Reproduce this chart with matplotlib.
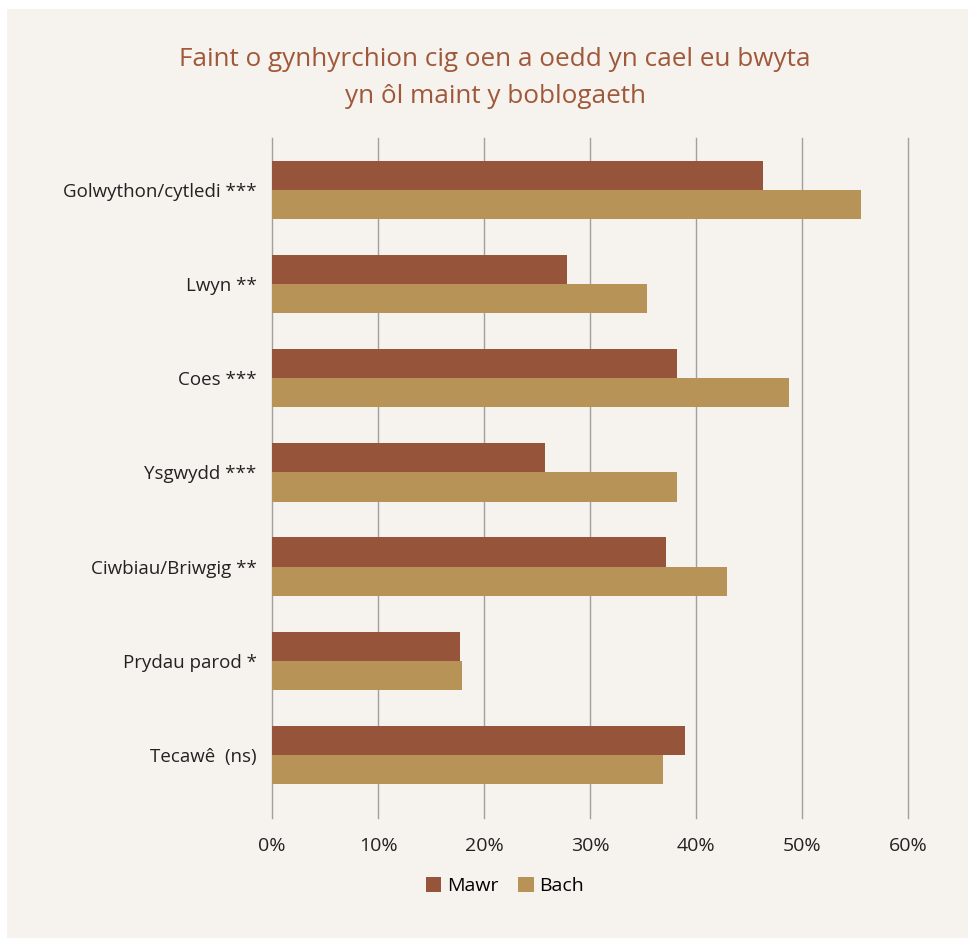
import numpy as np
import matplotlib.pyplot as plt
from matplotlib.patches import Rectangle

categories = ["Golwython/cytledi ***", "Lwyn **", "Coes ***", "Ysgwydd ***",
              "Ciwbiau/Briwgig **", "Prydau parod *", "Tecawê  (ns)"]
mawr = [46.3, 27.8, 38.2, 25.8, 37.2, 17.7, 39.0]
bach = [55.6, 35.4, 48.8, 38.2, 42.9, 17.9, 36.9]
xticks = [0, 10, 20, 30, 40, 50, 60]
xtick_labels = ["0%", "10%", "20%", "30%", "40%", "50%", "60%"]

plt.rcParams['font.family'] = ['Open Sans', 'DejaVu Sans']

bg = "#f6f3ee"
c_mawr = "#96553a"
c_bach = "#b89357"

fig = plt.figure(figsize=(9.72, 9.39), dpi=100, facecolor="white")
fig.patches.append(Rectangle((7 / 972, 1 - 938 / 939), 961 / 972, 929 / 939,
                             transform=fig.transFigure, facecolor=bg,
                             edgecolor="none", zorder=-10))

ax = fig.add_axes([272 / 972, 1 - 818 / 939, 636 / 972, 680 / 939])
ax.set_facecolor("none")

y = np.arange(len(categories))
h = 0.31
ax.barh(y - h / 2, mawr, height=h, color=c_mawr, label="Mawr", zorder=3)
ax.barh(y + h / 2, bach, height=h, color=c_bach, label="Bach", zorder=3)

ax.set_xlim(0, 60)
ax.set_ylim(len(categories) - 1 + 0.67, -0.55)
ax.set_xticks(xticks)
ax.set_xticklabels(xtick_labels, fontsize=14, color="#222222")
ax.set_yticks(y)
ax.set_yticklabels(categories, fontsize=13.5, color="#222222")
ax.tick_params(axis="both", length=0)
ax.tick_params(axis="x", pad=14)
ax.tick_params(axis="y", pad=11)
ax.grid(axis="x", color="#a0a0a0", linewidth=1, zorder=0)
for gl in ax.get_xgridlines():
    gl.set_clip_on(False)
for s in ax.spines.values():
    s.set_visible(False)

fig.text(495 / 972, 1 - 78 / 939,
         "Faint o gynhyrchion cig oen a oedd yn cael eu bwyta\nyn ôl maint y boblogaeth",
         ha="center", va="center", fontsize=18.8, color="#a0583a", linespacing=1.62)

fig.legend(loc="center", bbox_to_anchor=(505 / 972, 1 - 886 / 939), ncol=2,
           frameon=False, fontsize=14, handlelength=0.8, handleheight=0.8,
           handletextpad=0.3, columnspacing=1.0)

plt.savefig("out.png", dpi=100, facecolor="white")
